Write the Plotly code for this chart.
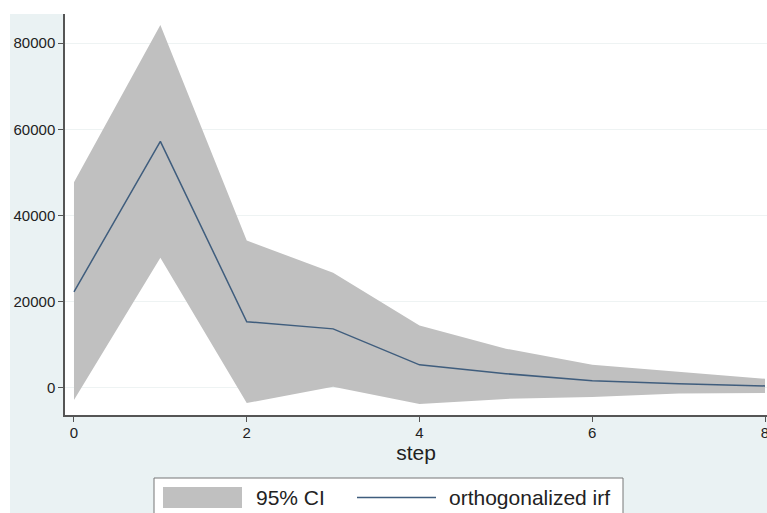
import plotly.graph_objects as go

steps = [0, 1, 2, 3, 4, 5, 6, 7, 8]
irf = [22300, 57200, 15350, 13700, 5350, 3300, 1650, 950, 470]
ci_upper = [47700, 84200, 34200, 26700, 14500, 9100, 5400, 3700, 2100]
ci_lower = [-2800, 30200, -3500, 250, -3700, -2550, -2100, -1300, -1150]
x_ticks = [0, 2, 4, 6, 8]
y_ticks = [0, 20000, 40000, 60000, 80000]
legend_labels = ["95% CI", "orthogonalized irf"]

# page geometry (body margin removed in the page via post_script)
PAGE_W, PAGE_H = 767, 513
W, H = PAGE_W, PAGE_H
plot_left, plot_top, plot_bottom, plot_right = 65, 14, 415, 767
L, T = plot_left, plot_top
R, B = PAGE_W - plot_right, PAGE_H - plot_bottom
pw, ph = plot_right - plot_left, plot_bottom - plot_top

def px(xp):
    return (xp - plot_left) / pw

def py(yp):
    return (plot_bottom - yp) / ph

ci_color = "#c0c0c0"
line_color = "#3f5d7d"

fig = go.Figure()
fig.add_trace(go.Scatter(
    x=steps + steps[::-1], y=ci_upper + ci_lower[::-1],
    fill="toself", fillcolor=ci_color, line=dict(width=0, color=ci_color),
    mode="lines", name=legend_labels[0], hoverinfo="skip", showlegend=False))
fig.add_trace(go.Scatter(
    x=steps, y=irf, mode="lines", name=legend_labels[1], showlegend=False,
    line=dict(color=line_color, width=1.5)))

bg = "#eaf2f3"
shapes = [
    dict(type="rect", xref="paper", yref="paper", layer="below",
         x0=px(0), x1=px(10), y0=py(PAGE_H + 5), y1=py(0),
         fillcolor="white", line=dict(width=0)),
    dict(type="rect", xref="paper", yref="paper", layer="below",
         x0=px(0), x1=px(PAGE_W + 5), y0=py(plot_top), y1=py(0),
         fillcolor="white", line=dict(width=0)),
    # legend box
    dict(type="rect", xref="paper", yref="paper",
         x0=px(154), x1=px(623), y0=py(530), y1=py(478),
         fillcolor="white", line=dict(width=1, color="#777")),
    dict(type="rect", xref="paper", yref="paper",
         x0=px(163), x1=px(242), y0=py(508), y1=py(487),
         fillcolor=ci_color, line=dict(width=0)),
    dict(type="line", xref="paper", yref="paper",
         x0=px(357), x1=px(436), y0=py(497.5), y1=py(497.5),
         line=dict(width=1.5, color=line_color)),
]
annotations = [
    dict(text=legend_labels[0], xref="paper", yref="paper", x=px(254), y=py(498),
         xanchor="left", yanchor="middle", showarrow=False,
         font=dict(size=21, color="#222")),
    dict(text=legend_labels[1], xref="paper", yref="paper", x=px(447), y=py(498),
         xanchor="left", yanchor="middle", showarrow=False,
         font=dict(size=21, color="#222")),
]

fig.update_layout(
    width=W, height=H,
    margin=dict(l=L, r=R, t=T, b=B, pad=0),
    paper_bgcolor=bg, plot_bgcolor="white",
    font=dict(family="Liberation Sans, Arial, sans-serif", color="#222"),
    showlegend=False, shapes=shapes, annotations=annotations,
)
fig.update_xaxes(
    range=[-0.104, 8.023], tickvals=x_ticks, ticks="outside", ticklen=5,
    tickcolor="#555", showline=True, linecolor="#555", linewidth=1.5,
    showgrid=False, zeroline=False, tickfont=dict(size=15, color="#222"),
    automargin=False, ticklabeloverflow="allow", ticklabelstandoff=-2,
    title=dict(text="step", font=dict(size=21, color="#222"), standoff=4))
fig.update_yaxes(
    range=[-6280, 86740], tickvals=y_ticks, ticks="outside", ticklen=5,
    tickcolor="#555", showline=True, linecolor="#555", linewidth=1.5,
    showgrid=True, gridcolor="#eef3f3", gridwidth=1, zeroline=False,
    automargin=False, ticklabeloverflow="allow",
    tickfont=dict(size=15, color="#222"), tickformat="d")

fig.write_html(
    "out.html",
    config={"displayModeBar": False},
    post_script="document.body.style.margin='0';"
                "document.body.style.overflow='hidden';"
                "document.documentElement.style.overflow='hidden';")
